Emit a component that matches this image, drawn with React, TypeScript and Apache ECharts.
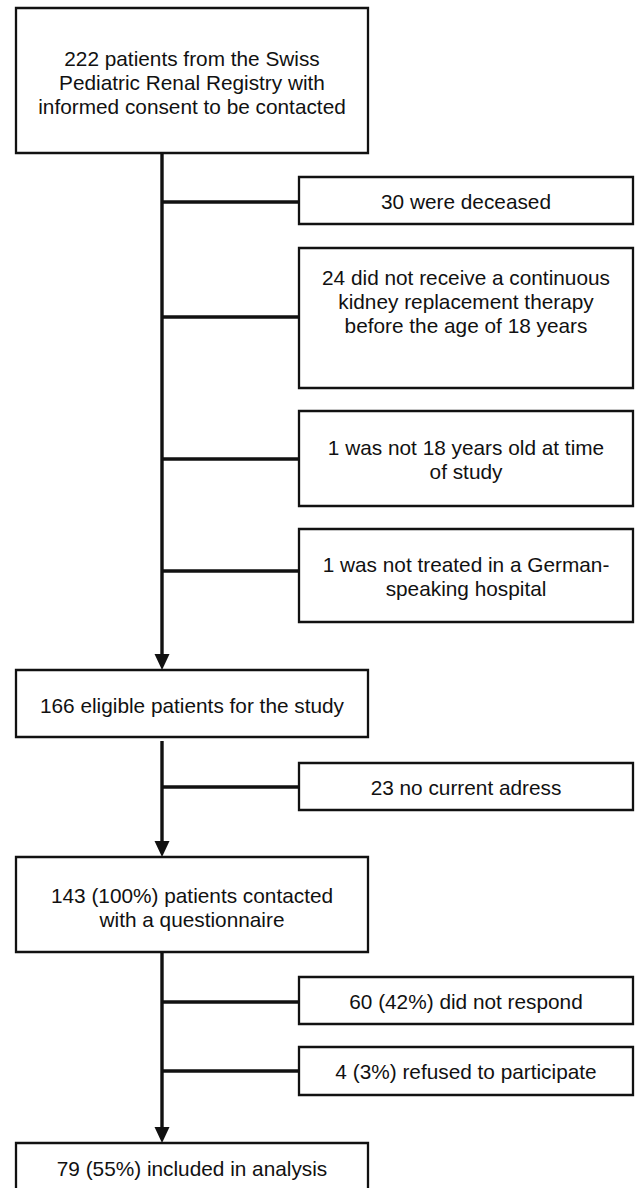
import React, { useEffect, useRef } from "react";
import * as echarts from "echarts";

// ---- content ----
const mainLabels = [
  "222 patients from the Swiss\nPediatric Renal Registry with\ninformed consent to be contacted",
  "166 eligible patients for the study",
  "143 (100%) patients contacted\nwith a questionnaire",
  "79 (55%) included in analysis",
];
const exclusionLabels = [
  "30 were deceased",
  "24 did not receive a continuous\nkidney replacement therapy\nbefore the age of 18 years",
  "1 was not 18 years old at time\nof study",
  "1 was not treated in a German-\nspeaking hospital",
  "23 no current adress",
  "60 (42%) did not respond",
  "4 (3%) refused to participate",
];

// ---- layout (diagram coordinates, px of a 636 x 1188 canvas) ----
// [x0, y0, x1, y1, textCenterY]
const mainBoxes = [
  [16, 8, 368, 153, 82],
  [16, 670, 368, 737, 705],
  [16, 857, 368, 952, 907],
  [16, 1143, 368, 1210, 1168],
];
const sideBoxes = [
  [299, 177, 633, 224, 201],
  [299, 248, 633, 388, 301],
  [299, 411, 633, 506, 459],
  [299, 529, 633, 622, 576],
  [299, 763, 633, 810, 787],
  [299, 977, 633, 1024, 1001],
  [299, 1047, 633, 1095, 1071],
];
const trunkX = 162;
const branchY = [202, 317, 459, 571, 787, 1002, 1071];
// trunk segments [yStart, yEnd(arrow tip)]
const trunks = [
  [153, 670],
  [741, 857],
  [952, 1143],
];

const FONT = "'Liberation Sans', Arial, Helvetica, sans-serif";
const INK = "#111111";

function boxRender(labels: string[]) {
  return (params: any, api: any) => {
    const p0 = api.coord([api.value(0), api.value(1)]);
    const p1 = api.coord([api.value(2), api.value(3)]);
    const ty = api.coord([0, api.value(4)])[1];
    const idx = params.dataIndex;
    return {
      type: "group",
      children: [
        {
          type: "rect",
          shape: { x: p0[0], y: p0[1], width: p1[0] - p0[0], height: p1[1] - p0[1] },
          style: { fill: "#ffffff", stroke: INK, lineWidth: 2.3 },
        },
        {
          type: "text",
          style: {
            text: labels[idx],
            x: (p0[0] + p1[0]) / 2,
            y: ty,
            align: "center",
            verticalAlign: "middle",
            fill: INK,
            fontSize: 20.8,
            fontFamily: FONT,
            lineHeight: 24,
          },
        },
      ],
    };
  };
}

export default function App() {
  const ref = useRef<HTMLDivElement>(null);
  useEffect(() => {
    if (!ref.current) return;
    const chart = echarts.init(ref.current, undefined, { renderer: "svg" });

    const branchData = branchY.map((y, i) => [trunkX, y, sideBoxes[i][0], y]);
    const trunkData = trunks.map((t) => [trunkX, t[0], trunkX, t[1]]);

    chart.setOption({
      animation: false,
      backgroundColor: "#ffffff",
      grid: { left: 0, right: 0, top: 0, bottom: 0 },
      xAxis: { type: "value", min: 0, max: 636, show: false },
      yAxis: { type: "value", min: 0, max: 1188, inverse: true, show: false },
      series: [
        {
          type: "custom",
          name: "branches",
          data: branchData,
          renderItem: (params: any, api: any) => {
            const a = api.coord([api.value(0), api.value(1)]);
            const b = api.coord([api.value(2), api.value(3)]);
            return {
              type: "line",
              shape: { x1: a[0], y1: a[1], x2: b[0], y2: b[1] },
              style: { stroke: INK, lineWidth: 3.4 },
            };
          },
          z: 1,
        },
        {
          type: "custom",
          name: "trunks",
          data: trunkData,
          renderItem: (params: any, api: any) => {
            const a = api.coord([api.value(0), api.value(1)]);
            const b = api.coord([api.value(2), api.value(3)]);
            const head = 16;
            const half = 7.5;
            return {
              type: "group",
              children: [
                {
                  type: "line",
                  shape: { x1: a[0], y1: a[1], x2: b[0], y2: b[1] - head + 2 },
                  style: { stroke: INK, lineWidth: 3.4 },
                },
                {
                  type: "polygon",
                  shape: {
                    points: [
                      [b[0] - half, b[1] - head],
                      [b[0] + half, b[1] - head],
                      [b[0], b[1]],
                    ],
                  },
                  style: { fill: INK },
                },
              ],
            };
          },
          z: 2,
        },
        {
          type: "custom",
          name: "main",
          data: mainBoxes,
          renderItem: boxRender(mainLabels),
          z: 3,
        },
        {
          type: "custom",
          name: "exclusions",
          data: sideBoxes,
          renderItem: boxRender(exclusionLabels),
          z: 3,
        },
      ],
    });
    return () => chart.dispose();
  }, []);
  return (
    <div
      ref={ref}
      style={{ position: "absolute", left: 0, top: 0, width: 636, height: 1188 }}
    />
  );
}
